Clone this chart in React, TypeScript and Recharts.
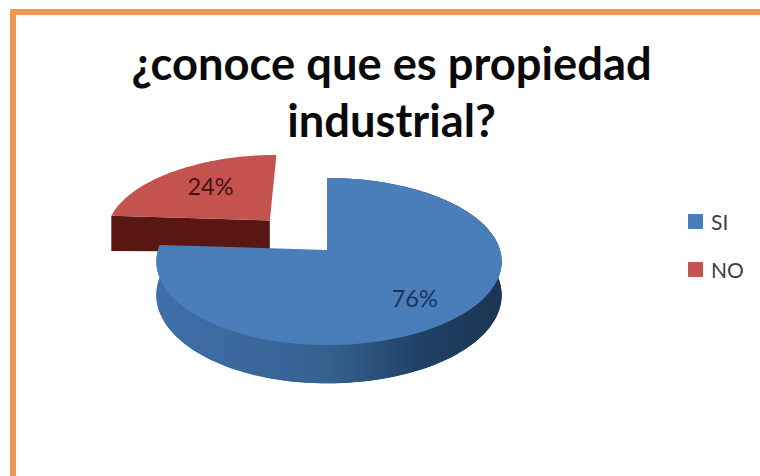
import { Legend, Pie, PieChart } from "recharts";

const categories = ["NO", "SI"];
const values = [24, 76];
const topColors = ["#C4524F", "#4A7EBB"];
const legendOrder = ["SI", "NO"];
const titleLines = ["¿conoce que es propiedad", "industrial?"];

const tableData = categories.map((name, i) => ({ name, value: values[i], fill: topColors[i] }));

const RX_RIGHT = 173;
const RX_LEFT = 169;
const RY = 82;
const TILT = 0.1376; // foreshortening of the far side of the disc
const DEPTH = 33;
const EXPLODE: Record<string, number> = { NO: 0.52 };
const LABEL_RADIUS: Record<string, number> = { NO: 0.6, SI: 0.69 };
const LABEL_DY: Record<string, number> = { NO: -1, SI: 7 };
const LABEL_COLORS: Record<string, string> = { NO: "#431412", SI: "#17365D" };

const rad = (deg: number) => (deg * Math.PI) / 180;

// Disc coordinates (u right, v away from the viewer) to screen coordinates
function project(cx: number, cy: number, u: number, v: number) {
  const k = 1 / (1 + TILT * v);
  const rx = u < 0 ? RX_LEFT : RX_RIGHT;
  return { x: cx + rx * u * k, y: cy - RY * v * k, k };
}

function toPath(points: { x: number; y: number }[]) {
  return points.map((p, i) => `${i ? "L" : "M"}${p.x.toFixed(1)} ${p.y.toFixed(1)}`).join(" ") + " Z";
}

function drop(p: { x: number; y: number; k: number }, extra = 0) {
  return { x: p.x, y: p.y + DEPTH * p.k + extra, k: p.k };
}

function explodeOffset(name: string, start: number, end: number) {
  const d = EXPLODE[name] ?? 0;
  const mid = rad((start + end) / 2);
  return { u: d * Math.cos(mid), v: d * Math.sin(mid) };
}

function Slice3D(props: any) {
  const { cx, cy, startAngle, endAngle, fill, name } = props;
  const off = explodeOffset(name, startAngle, endAngle);
  const apex = project(cx, cy, off.u, off.v);
  const steps = Math.ceil(Math.abs(endAngle - startAngle) / 2);
  const arc = [];
  for (let i = 0; i <= steps; i++) {
    const a = rad(startAngle + ((endAngle - startAngle) * i) / steps);
    arc.push(project(cx, cy, off.u + Math.cos(a), off.v + Math.sin(a)));
  }
  const first = arc[0];

  // the pulled-out slice only shows its front cut face
  if (EXPLODE[name]) {
    return (
      <g>
        <path d={toPath([apex, first, drop(first, 4), drop(apex)])} fill="#5A1613" />
        <path d={toPath([apex, ...arc])} fill={fill} />
      </g>
    );
  }

  const wallFill = "url(#blueWall)";
  return (
    <g>
      <defs>
        <linearGradient id="blueWall" gradientUnits="userSpaceOnUse" x1="155" y1="0" x2="502" y2="0">
          <stop offset="0" stopColor="#3F70AB" />
          <stop offset="0.5" stopColor="#35618F" />
          <stop offset="0.78" stopColor="#1F3F64" />
          <stop offset="1" stopColor="#1B3652" />
        </linearGradient>
      </defs>
      <path d={toPath([apex, ...arc].map((p) => drop(p)))} fill={wallFill} />
      <path d={toPath([...arc, ...arc.map((p) => drop(p)).reverse()])} fill={wallFill} />
      <path d={toPath([apex, ...arc])} fill={fill} />
    </g>
  );
}

function renderSliceLabel(props: any) {
  const { cx, cy, midAngle, percent, name } = props;
  const a = rad(midAngle);
  const r = (EXPLODE[name] ?? 0) + LABEL_RADIUS[name];
  const p = project(cx, cy, r * Math.cos(a), r * Math.sin(a));
  return (
    <text
      x={p.x}
      y={p.y}
      dy={LABEL_DY[name]}
      textAnchor="middle"
      dominantBaseline="middle"
      fontFamily="Lato, sans-serif"
      fontSize={23.5}
      fill={LABEL_COLORS[name]}
    >
      {`${Math.round(percent * 100)}%`}
    </text>
  );
}

function renderLegend() {
  return (
    <div style={{ fontFamily: "Lato, sans-serif", fontSize: 21, color: "#404040" }}>
      {legendOrder.map((name) => (
        <div key={name} style={{ display: "flex", alignItems: "center", height: 26, marginBottom: 22 }}>
          <span
            style={{
              width: 15,
              height: 15,
              marginRight: 8,
              background: topColors[categories.indexOf(name)],
            }}
          />
          {name}
        </div>
      ))}
    </div>
  );
}

export default function App() {
  return (
    <div style={{ position: "fixed", left: 0, top: 0, width: 760, height: 476, overflow: "hidden", background: "#fff" }}>
      <div
        style={{
          position: "absolute",
          left: 10,
          top: 9,
          width: 760,
          height: 490,
          boxSizing: "border-box",
          border: "6.5px solid #F0975A",
        }}
      />
      <PieChart width={760} height={476} margin={{ top: 0, right: 0, bottom: 0, left: 0 }} style={{ position: "absolute" }}>
        <text x={391.5} y={80} textAnchor="middle" fontFamily="Lato, sans-serif" fontWeight={700} fontSize={45.3} fill="#0A0A0A">
          {titleLines[0]}
        </text>
        <text x={391.5} y={137} textAnchor="middle" fontFamily="Lato, sans-serif" fontWeight={700} fontSize={45.3} fill="#0A0A0A">
          {titleLines[1]}
        </text>
        <Pie
          data={tableData}
          dataKey="value"
          nameKey="name"
          cx={327}
          cy={250}
          innerRadius={0}
          outerRadius={173}
          startAngle={176.4}
          endAngle={-183.6}
          stroke="none"
          shape={Slice3D}
          activeShape={Slice3D}
          inactiveShape={Slice3D}
          label={renderSliceLabel}
          labelLine={false}
          isAnimationActive={false}
        />
        <Legend content={renderLegend} wrapperStyle={{ left: 688, top: 208, width: 70, bottom: "auto" }} />
      </PieChart>
    </div>
  );
}
